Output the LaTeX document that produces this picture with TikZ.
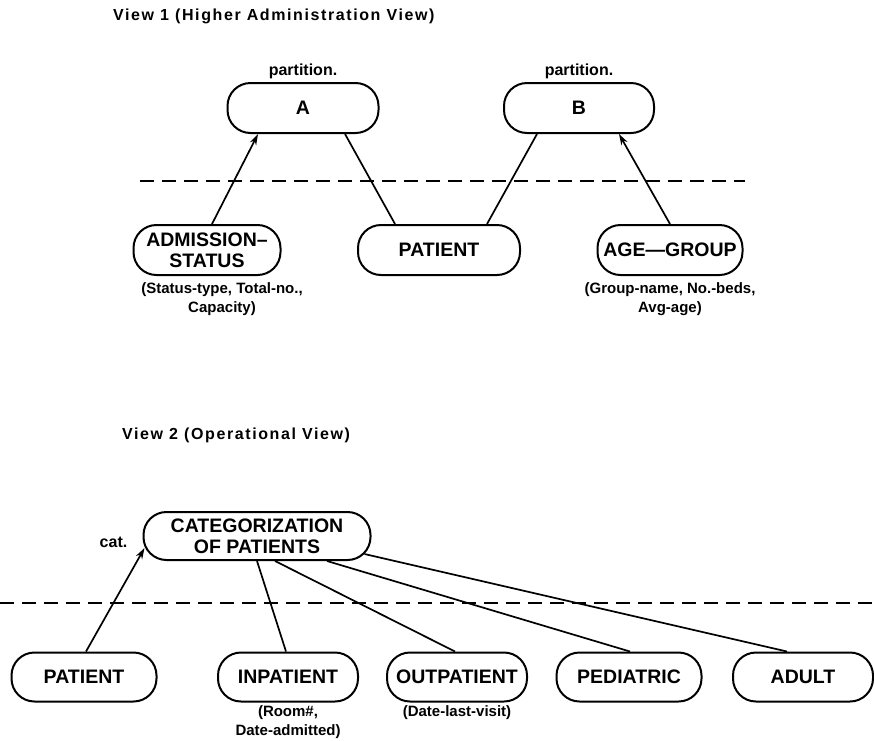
\documentclass[tikz,border=0pt]{standalone}
\usepackage{fontspec}
\setsansfont{Liberation Sans}
\usetikzlibrary{arrows.meta,positioning}
\begin{document}
\begin{tikzpicture}[x=1pt,y=-1pt,font=\sffamily\bfseries,>={Stealth[length=11pt,width=7pt]},
 ent/.style={draw,line width=2pt,rounded corners=23pt,minimum height=50pt,align=center,inner sep=2pt,font=\sffamily\bfseries\fontsize{19.5}{21}\selectfont},
 lbl/.style={inner sep=2pt,align=center,font=\sffamily\bfseries\fontsize{16}{19}\selectfont},
 attr/.style={inner sep=1pt,align=center,font=\sffamily\bfseries\fontsize{15}{19}\selectfont},
 view/.style={anchor=west,inner sep=0pt,font=\sffamily\bfseries\fontsize{16}{18}\selectfont\addfontfeatures{LetterSpace=10}},
 link/.style={line width=1.7pt},
 sep/.style={line width=1.1pt,dash pattern=on 14pt off 8pt}]
\useasboundingbox (0,0) rectangle (874,740);
% View 1
\node[view] (v1) at (113,16) {View 1 (Higher Administration View)};
\node[ent,minimum width=151pt] (A) at (303,108) {A};
\node[ent,minimum width=150pt] (B) at (579,108) {B};
\node[lbl,above=1pt of A] (pA) {partition.};
\node[lbl,above=1pt of B] (pB) {partition.};
\node[ent,minimum width=147pt] (adm) at (207,250) {ADMISSION--\\STATUS};
\node[ent,minimum width=162pt] (pat) at (439,250) {PATIENT};
\node[ent,minimum width=145pt] (age) at (670,250) {AGE---GROUP};
\node[attr,below=5pt of adm,xshift=15pt] (admattr) {(Status-type, Total-no.,\\Capacity)};
\node[attr,below=5pt of age] (ageattr) {(Group-name, No.-beds,\\Avg-age)};
\coordinate (s1l) at (140,181);
\coordinate (s1r) at (745,181);
\draw[sep] (s1l) -- (s1r);
\draw[link,->] ([xshift=5pt]adm.north) -- ([xshift=-45pt]A.south);
\draw[link] ([xshift=42pt]A.south) -- ([xshift=-44pt]pat.north);
\draw[link] ([xshift=-42pt]B.south) -- ([xshift=48pt]pat.north);
\draw[link,->] (age.north) -- ([xshift=40pt]B.south);
% View 2
\node[view] (v2) at (122,435) {View 2 (Operational View)};
\node[ent,minimum width=227pt,minimum height=48pt] (cat) at (257,536) {CATEGORIZATION\\OF PATIENTS};
\node[lbl,left=13pt of cat,yshift=-6pt] (catl) {cat.};
\node[ent,minimum width=145pt,minimum height=49pt] (pt2) at (84,677) {PATIENT};
\node[ent,minimum width=140pt,minimum height=49pt] (inp) at (288,677) {INPATIENT};
\node[ent,minimum width=140pt,minimum height=49pt] (outp) at (457,677) {OUTPATIENT};
\node[ent,minimum width=145pt,minimum height=49pt] (ped) at (629,677) {PEDIATRIC};
\node[ent,minimum width=140pt,minimum height=49pt] (adult) at (803,677) {ADULT};
\node[attr,below=2pt of inp] (inpattr) {(Room\#,\\Date-admitted)};
\node[attr,below=2pt of outp] (outpattr) {(Date-last-visit)};
\coordinate (s2l) at (0,603);
\coordinate (s2r) at (874,603);
\draw[sep] (s2l) -- (s2r);
\draw[link,->] ([xshift=2pt]pt2.north) -- ([shift={(2pt,13pt)}]cat.south west);
\foreach \t/\a/\b in {inp/0/-2,outp/18/-2,ped/70/1}{\draw[link] ([xshift=\a pt]cat.south) -- ([xshift=\b pt]\t.north);}
\draw[link] ([shift={(-7pt,7pt)}]cat.south east) -- ([xshift=-16pt]adult.north);
\end{tikzpicture}
\end{document}
